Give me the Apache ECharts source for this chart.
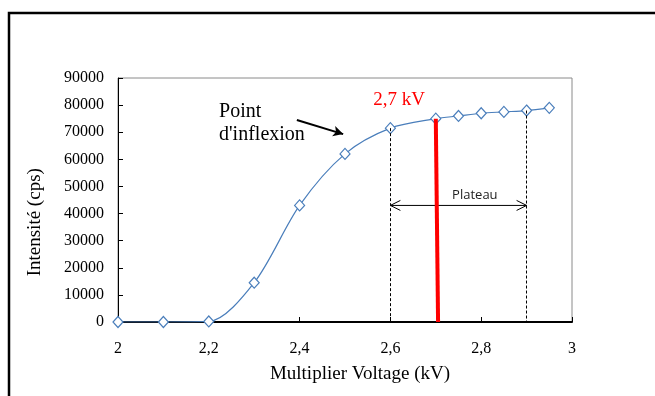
<!DOCTYPE html>
<html><head><meta charset="utf-8">
<script src="https://cdn.jsdelivr.net/npm/echarts@6/dist/echarts.min.js"></script>
<style>html,body{margin:0;padding:0;background:#fff}#c{width:655px;height:396px}</style>
</head><body><div id="c"></div>
<script>
// Multiplier voltage scan (kV) and measured intensity (cps)
const voltage = [2, 2.1, 2.2, 2.3, 2.4, 2.5, 2.6, 2.7, 2.75, 2.8, 2.85, 2.9, 2.95];
const intensity = [0, 0, 200, 14500, 43000, 62000, 71500, 75000, 76000, 77000, 77500, 78000, 79000];

// Plateau bounds and chosen operating voltage
const plateauStart = 2.6, plateauStartLevel = 71500;
const plateauEnd = 2.9, plateauEndLevel = 78000;
const plateauArrowLevel = 43000;
const operatingTop = [2.7, 75000];
const operatingBottom = [2.705, 0];

// Arrow pointing at the inflexion point
const inflexionArrow = [[2.394, 74500], [2.496, 69300]];

const serif = '"Liberation Serif", "DejaVu Serif", serif';
const fmt = v => String(+v.toFixed(2)).replace('.', ',');

const chart = echarts.init(document.getElementById('c'), null, {renderer: 'canvas'});

chart.setOption({
  animation: false,
  backgroundColor: '#fff',
  grid: {left: 118, right: 83, top: 78, bottom: 74, show: true, borderColor: '#8a8a8a', borderWidth: 1},
  xAxis: {
    type: 'value', min: 2, max: 3, interval: 0.2,
    axisLine: {lineStyle: {color: '#000', width: 2}},
    axisTick: {inside: true, length: 5, lineStyle: {color: '#000'}},
    axisLabel: {margin: 19, fontFamily: serif, fontSize: 16, color: '#000', formatter: fmt},
    splitLine: {show: false}
  },
  yAxis: {
    type: 'value', min: 0, max: 90000, interval: 10000,
    axisLine: {show: true, lineStyle: {color: '#000', width: 1}},
    axisTick: {show: true, inside: true, length: 5, lineStyle: {color: '#000'}},
    axisLabel: {margin: 14, fontFamily: serif, fontSize: 16, color: '#000', formatter: v => String(v)},
    splitLine: {show: false}
  },
  series: [
    {
      // reference lines: plateau limits, operating voltage, inflexion arrow
      type: 'line', data: [], silent: true,
      markLine: {
        silent: true, animation: false, symbol: 'none', label: {show: false},
        data: [
          [{coord: [plateauStart, plateauStartLevel]}, {coord: [plateauStart, 0]}],
          [{coord: [plateauEnd, plateauEndLevel]}, {coord: [plateauEnd, 0]}],
          [{coord: operatingTop, lineStyle: {color: '#ff0000', width: 4, type: 'solid'}},
           {coord: operatingBottom}],
          [{coord: inflexionArrow[0], symbol: 'none', lineStyle: {color: '#000', width: 2, type: 'solid'}},
           {coord: inflexionArrow[1], symbol: 'arrow', symbolSize: [8, 10]}]
        ],
        lineStyle: {color: '#000', width: 1, type: [3, 2]}
      }
    },
    {
      // double-headed plateau arrow with open heads
      type: 'custom', silent: true, z: 3,
      data: [[plateauStart, plateauEnd, plateauArrowLevel]],
      renderItem: function (params, api) {
        const a = api.coord([api.value(0), api.value(2)]);
        const b = api.coord([api.value(1), api.value(2)]);
        const h = 10, w = 5;
        const style = {stroke: '#000', lineWidth: 1, fill: null};
        return {
          type: 'group',
          children: [
            {type: 'line', shape: {x1: a[0], y1: a[1], x2: b[0], y2: b[1]}, style: style},
            {type: 'polyline', shape: {points: [[a[0] + h, a[1] - w], [a[0], a[1]], [a[0] + h, a[1] + w]]}, style: style},
            {type: 'polyline', shape: {points: [[b[0] - h, b[1] - w], [b[0], b[1]], [b[0] - h, b[1] + w]]}, style: style}
          ]
        };
      }
    },
    {
      type: 'line', z: 4,
      data: voltage.map((v, i) => [v, intensity[i]]),
      smooth: 0.3,
      lineStyle: {color: '#4a7ebb', width: 1.2},
      symbol: 'diamond', symbolSize: [10, 11], showAllSymbol: true,
      itemStyle: {color: '#ffffff', borderColor: '#4a7ebb', borderWidth: 1.2}
    }
  ]
});

// Annotations and axis titles anchored to data coordinates
const at = (x, y) => chart.convertToPixel({gridIndex: 0}, [x, y]);
const pPoint = at(2.2225, 77500);
const pInflex = at(2.2225, 69000);
const pKv = at(2.619, 82000);
const pPlateau = at(2.786, 46800);
const pXTitle = at(2.533, 0);
const pYTitle = at(2, 36800);

chart.setOption({
  graphic: [
    {type: 'rect', shape: {x: 9, y: 13, width: 700, height: 420}, style: {fill: 'none', stroke: '#000', lineWidth: 2.5}, z: 100},
    {type: 'text', x: pXTitle[0], y: pXTitle[1] + 52, style: {text: 'Multiplier Voltage (kV)', font: '19px ' + serif, fill: '#000', textAlign: 'center', textVerticalAlign: 'middle'}},
    {type: 'text', x: pYTitle[0] - 83, y: pYTitle[1], rotation: Math.PI / 2, style: {text: 'Intensité (cps)', font: '19px ' + serif, fill: '#000', textAlign: 'center', textVerticalAlign: 'middle'}},
    {type: 'text', x: pPoint[0], y: pPoint[1], style: {text: 'Point', font: '20px ' + serif, fill: '#000', textVerticalAlign: 'middle'}},
    {type: 'text', x: pInflex[0], y: pInflex[1], style: {text: "d'inflexion", font: '20px ' + serif, fill: '#000', textVerticalAlign: 'middle'}},
    {type: 'text', x: pKv[0], y: pKv[1], style: {text: '2,7 kV', font: '19px ' + serif, fill: '#ff0000', textAlign: 'center', textVerticalAlign: 'middle'}},
    {type: 'text', x: pPlateau[0], y: pPlateau[1], style: {text: 'Plateau', font: '13px "Open Sans", "Liberation Sans", sans-serif', fill: '#222', textAlign: 'center', textVerticalAlign: 'middle'}}
  ]
});
</script>
</body></html>
